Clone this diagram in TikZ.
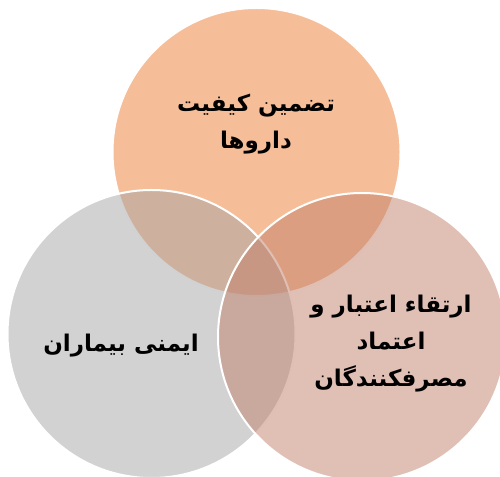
\documentclass[tikz,border=0pt]{standalone}
\usepackage{fontspec}
\newfontfamily\arabicfont[Script=Arabic]{DejaVu Sans}
\TeXXeTstate=1
\usepackage{tikz}
\usetikzlibrary{positioning, calc}

\definecolor{orangeC}{RGB}{237,125,49}
\definecolor{grayC}{RGB}{165,165,165}
\definecolor{roseC}{RGB}{193,127,107}

\begin{document}
\begin{tikzpicture}[
  x=1pt, y=1pt,
  venn/.style={circle, draw=white, line width=2pt, fill opacity=0.5, minimum size=288pt, inner sep=0pt},
  vlabel/.style={font=\arabicfont\bfseries\fontsize{23}{37}\selectfont, align=center, text=black, inner sep=0pt}
]
\useasboundingbox (0,0) rectangle (500,476);

% circles
\node[venn, fill=orangeC] (Quality) at (256.5,324) {};
\node[venn, fill=grayC]   (Safety)  at (151.5,142) {};
\node[venn, fill=roseC]   (Trust)   at (362,139)   {};

% labels
\node[vlabel] (QualityTxt) at (256,352) {\beginR تضمین کیفیت\endR\\\beginR داروها\endR};
\node[vlabel] (SafetyTxt)  at (121,130) {\beginR ایمنی بیماران\endR};
\node[vlabel] (TrustTxt)   at (391,132) {\beginR ارتقاء اعتبار و\endR\\\beginR اعتماد\endR\\\beginR مصرفکنندگان\endR};

\end{tikzpicture}
\end{document}
